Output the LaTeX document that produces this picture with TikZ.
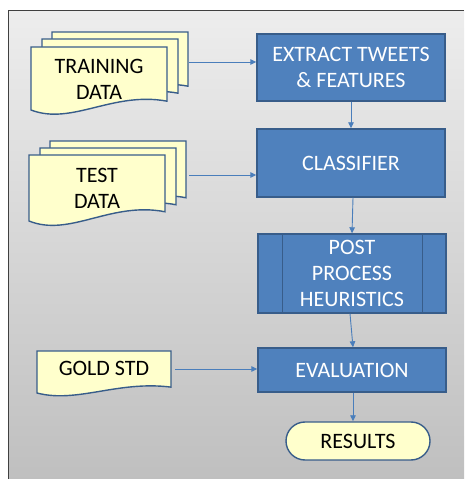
\documentclass[tikz,border=0pt]{standalone}
\usepackage{fontspec}
\setmainfont{Carlito}
\usetikzlibrary{arrows.meta}

\definecolor{procblue}{HTML}{4F81BD}
\definecolor{procedge}{HTML}{385D8A}
\definecolor{paper}{HTML}{FFFFCC}
\definecolor{linkblue}{HTML}{4A7EBB}

% one sheet with a wavy lower edge: top-left x, top-left y, width, height
\newcommand{\docsheet}[4]{%
  \filldraw[sheet, shift={(#1,#2)}] (0,0) -- (#3,0) -- (#3,{-0.86*#4})
    .. controls ({0.6*#3},{-0.7*#4}) and ({0.3*#3},{-1.25*#4}) .. (0,-#4) -- cycle;
}

\begin{document}
\begin{tikzpicture}[x=1pt, y=1pt,
  font=\fontsize{22}{26}\selectfont,
  sheet/.style={fill=paper, draw=procedge, line width=1.4pt},
  doctext/.style={align=center, text=black},
  process/.style={fill=procblue, draw=procedge, line width=1.4pt, text=white,
                  align=center, minimum width=188, inner sep=0pt},
  terminal/.style={fill=paper, draw=procedge, line width=1.4pt, rounded corners=19,
                   minimum width=144, minimum height=38, inner sep=0pt},
  link/.style={draw=linkblue, line width=0.9pt, -{Triangle[length=6pt, width=5.5pt]}}]
  \useasboundingbox (0,0) rectangle (464,479);
  \fill[white] (0,0) rectangle (464,479);
  \shade[top color=gray!14, bottom color=gray!50] (8,0) rectangle (464,468);
  \draw[black!75, line width=1pt] (8,0) -- (8,468) -- (464,468);

  % input documents
  \docsheet{52}{447}{136}{63}
  \docsheet{42}{440}{136}{63}
  \docsheet{31}{432}{136}{63}
  \node[doctext] (train) at (99,400) {TRAINING\\DATA};
  \docsheet{50}{338}{136}{66}
  \docsheet{40}{331}{136}{66}
  \docsheet{29}{324}{136}{66}
  \node[doctext] (test) at (97,291) {TEST\\DATA};
  \docsheet{37}{128}{134}{42}
  \node[doctext] (gold) at (104,111) {GOLD STD};

  \coordinate (trainout) at (189,417);
  \coordinate (testout) at (189,304);
  \coordinate (goldout) at (175,110);

  % processing steps
  \node[process, minimum height=67] (extract) at (351,411.5) {EXTRACT TWEETS\\\& FEATURES};
  \node[process, minimum height=68] (classifier) at (351,316) {CLASSIFIER};
  \node[process, minimum height=79] (post) at (352,205.5) {POST\\PROCESS\\HEURISTICS};
  \draw[procedge, line width=1.4pt] ([xshift=25]post.north west) -- ([xshift=25]post.south west)
    ([xshift=-24]post.north east) -- ([xshift=-24]post.south east);
  \node[process, minimum height=44] (eval) at (352,109) {EVALUATION};
  \node[terminal] (results) at (358,38) {RESULTS};

  \draw[link] (trainout) -- (trainout -| extract.west);
  \draw[link] (testout) -- (testout -| classifier.west);
  \draw[link] (goldout) -- (goldout -| eval.west);
  \draw[link] (extract.south) -- (classifier.north);
  \draw[link] ([xshift=2]classifier.south) -- ([xshift=1]classifier.south |- post.north);
  \draw[link] ([xshift=-2]post.south) -- ([xshift=1]eval.north);
  \draw[link] ([xshift=1]eval.south) -- ([xshift=1]eval.south |- results.north);
\end{tikzpicture}
\end{document}
